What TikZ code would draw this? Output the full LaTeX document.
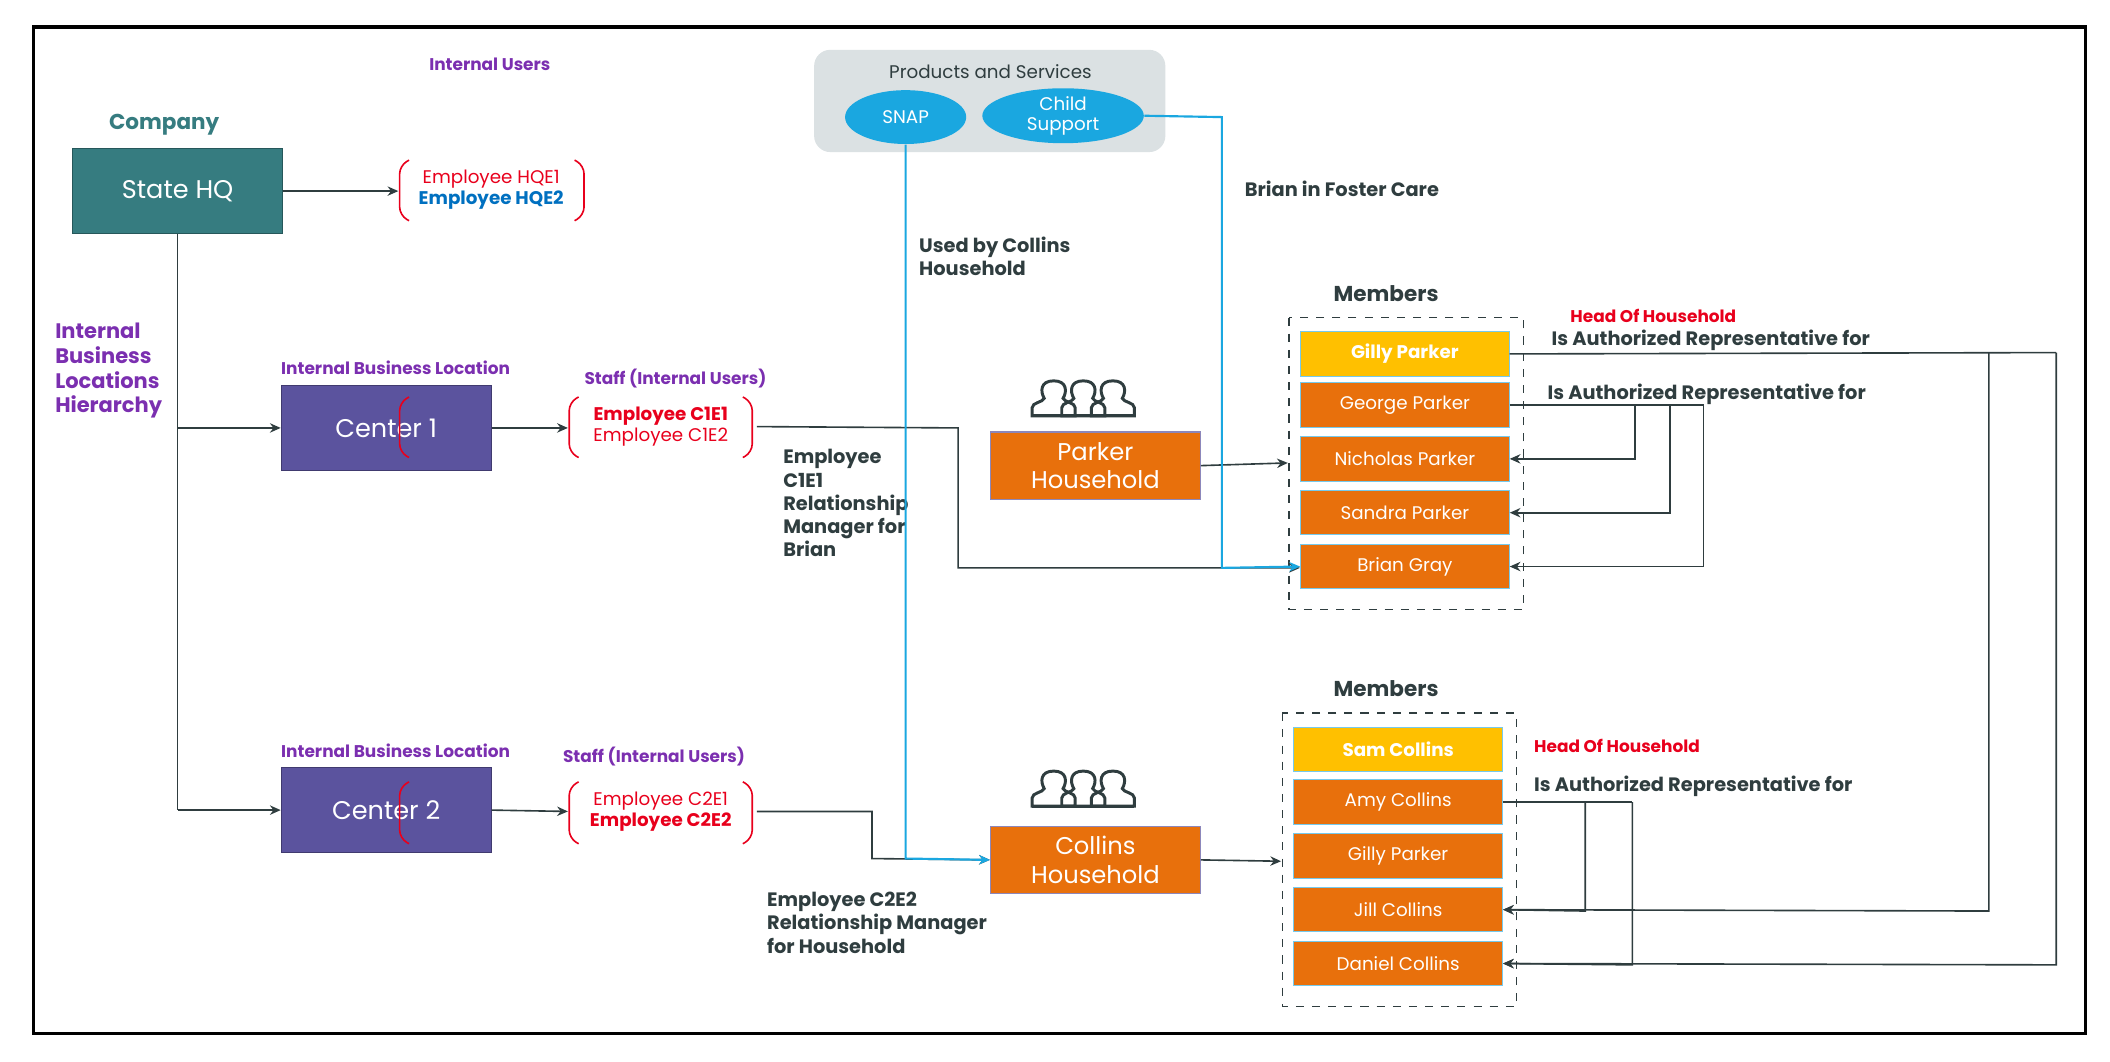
\documentclass[tikz,border=0pt]{standalone}
\usepackage{fontspec}
\setmainfont{Poppins}
\usetikzlibrary{arrows.meta,shapes.geometric}
\definecolor{dk}{HTML}{2F3D3F}
\definecolor{teal}{HTML}{367C80}
\definecolor{pur}{HTML}{5B539E}
\definecolor{org}{HTML}{E8700C}
\definecolor{yel}{HTML}{FFC000}
\definecolor{cy}{HTML}{1AA7E0}
\definecolor{lbl}{HTML}{7B2FB0}
\definecolor{rd}{HTML}{E8001C}
\definecolor{bl}{HTML}{0070C0}
\begin{document}
\begin{tikzpicture}[x=0.5pt,y=-0.5pt,
 box/.style={draw=#1!70!black,fill=#1,text=white,minimum width=78pt,minimum height=31.5pt,inner sep=0pt,font=\fontsize{9.5}{10}\selectfont},
 hh/.style={draw=pur!70,fill=org,text=white,minimum width=78pt,minimum height=25pt,align=center,inner sep=0pt,font=\fontsize{9}{10.5}\selectfont},
 mem/.style={draw=cy!60,fill=org,text=white,minimum width=77.5pt,minimum height=16.5pt,inner sep=0pt,font=\fontsize{6.8}{8}\selectfont},
 hd/.style={mem,fill=yel,font=\fontsize{6.8}{8}\selectfont\bfseries},
 lab/.style={font=\fontsize{6.3}{7.5}\selectfont\bfseries,text=lbl},
 dl/.style={font=\fontsize{7.2}{8.6}\selectfont\bfseries,text=dk,align=left},
 ar/.style={-{Stealth[length=4pt,width=3.5pt]},draw=dk,line width=0.6pt},
 ln/.style={draw=dk,line width=0.6pt},
 ca/.style={-{Stealth[length=4pt,width=3.5pt]},draw=cy,line width=0.8pt},
 emp/.style={font=\fontsize{6.8}{8}\selectfont,align=center,inner sep=1pt,minimum width=64pt}
]
\useasboundingbox (0,0) rectangle (1568,789);
\draw[line width=1.2pt] (25,20) rectangle (1550,768);
% left
\node[box=teal] (hq) at (132,142) {State HQ};
\node[box=pur] (c1) at (287,318) {Center 1};
\node[box=pur] (c2) at (287,602) {Center 2};
\node[font=\fontsize{8}{9}\selectfont\bfseries,text=teal] (co) at (122,93) {Company};
\node[lab] (iu) at (364,48) {Internal Users};
\node[lab,font=\fontsize{7.8}{9.2}\selectfont\bfseries,align=left,anchor=north west] (ibl) at (34,233) {Internal\\Business\\Locations\\Hierarchy};
\node[lab] at (294,273) {Internal Business Location};
\node[lab] at (294,558) {Internal Business Location};
\node[lab] at (502,281) {Staff (Internal Users)};
\node[lab] at (486,562) {Staff (Internal Users)};
% employee groups
\node[emp] (e0) at (365,141) {\textcolor{rd}{Employee HQE1}\\\textcolor{bl}{\bfseries Employee HQE2}};
\node[emp] (e1) at (491,317) {\textcolor{rd}{\bfseries Employee C1E1}\\\textcolor{rd}{Employee C1E2}};
\node[emp] (e2) at (491,603) {\textcolor{rd}{Employee C2E1}\\\textcolor{rd}{\bfseries Employee C2E2}};
\foreach \n/\t/\b in {e0/119/164,e1/295/340,e2/581/627}{
 \draw[rd,line width=0.6pt,rounded corners=3pt] (304,\t) -- (297,\t+4) -- (297,\b-4) -- (304,\b);
}
\foreach \t/\b in {119/164}{\draw[rd,line width=0.6pt,rounded corners=3pt] (427,\t) -- (434,\t+4) -- (434,\b-4) -- (427,\b);}
\foreach \t/\b in {295/340,581/627}{
 \draw[rd,line width=0.6pt,rounded corners=3pt] (430,\t) -- (423,\t+4) -- (423,\b-4) -- (430,\b);
 \draw[rd,line width=0.6pt,rounded corners=3pt] (552,\t) -- (559,\t+4) -- (559,\b-4) -- (552,\b);}
\draw[ar] (hq.east) -- (296,142);
\draw[ln] (hq.south) -- (132,602);
\draw[ar] (132,318) -- (c1.west);
\draw[ar] (132,602) -- (c2.west);
\draw[ar] (c1.east) -- (422,318);
\draw[ar] (c2.east) -- (422,603);
% products
\node[draw=none,fill=cy!18!gray!25,rounded corners=6pt,minimum width=130.5pt,minimum height=38pt] (ps) at (735.5,75) {};
\node[font=\fontsize{6.8}{8}\selectfont,text=dk] at (736,53) {Products and Services};
\node[ellipse,fill=cy,text=white,minimum width=45pt,minimum height=20pt,inner sep=0pt,font=\fontsize{6.8}{8}\selectfont] (snap) at (673,87) {SNAP};
\node[ellipse,fill=cy,text=white,minimum width=60pt,minimum height=20pt,inner sep=0pt,align=center,font=\fontsize{6.8}{7.5}\selectfont] (cs) at (790,86) {Child\\Support};
% households
\node[hh] (ph) at (814,346) {Parker\\Household};
\node[hh] (ch) at (814,639) {Collins\\Household};
\foreach \y in {297,587}{
 \begin{scope}[shift={(805,\y)},line width=1.1pt,draw=dk]
  \foreach \dx in {-22,0,22}{
   \draw[dk] (\dx-16,12) -- (\dx-16,6) .. controls (\dx-16,2) and (\dx-8,2) .. (\dx-7,-1)
     .. controls (\dx-10,-6) and (\dx-10,-14) .. (\dx,-14) .. controls (\dx+10,-14) and (\dx+10,-6) .. (\dx+7,-1)
     .. controls (\dx+8,2) and (\dx+16,2) .. (\dx+16,6) -- (\dx+16,12) -- cycle;}
  \draw[dk] (-38,12) -- (38,12);
 \end{scope}}
% members
\draw[dk,dashed,line width=0.6pt] (958,236) rectangle (1132,453);
\draw[dk,dashed,line width=0.6pt] (953,530) rectangle (1127,748);
\node[font=\fontsize{8}{9}\selectfont\bfseries,text=dk] at (1030,218) {Members};
\node[font=\fontsize{8}{9}\selectfont\bfseries,text=dk] at (1030,512) {Members};
\node[hd] (m1) at (1044,263) {Gilly Parker};
\node[mem] (m2) at (1044,301) {George Parker};
\node[mem] (m3) at (1044,341) {Nicholas Parker};
\node[mem] (m4) at (1044,381) {Sandra Parker};
\node[mem] (m5) at (1044,421) {Brian Gray};
\node[hd] (n1) at (1039,557) {Sam Collins};
\node[mem] (n2) at (1039,596) {Amy Collins};
\node[mem] (n3) at (1039,636) {Gilly Parker};
\node[mem] (n4) at (1039,676) {Jill Collins};
\node[mem] (n5) at (1039,716) {Daniel Collins};
\draw[ar] (ph.east) -- (957,344);
\draw[ar] (ch.east) -- (952,640);
% labels
\node[dl,anchor=west] at (918,140) {Brian in Foster Care};
\node[dl,anchor=north west] at (676,169) {Used by Collins\\Household};
\node[dl,anchor=north west] at (575,327) {Employee\\C1E1\\Relationship\\Manager for\\Brian};
\node[dl,anchor=north west] at (563,656) {Employee C2E2\\Relationship Manager\\for Household};
\node[font=\fontsize{6.3}{7.5}\selectfont\bfseries,text=rd,anchor=west] at (1160,235) {Head Of Household};
\node[font=\fontsize{6.3}{7.5}\selectfont\bfseries,text=rd,anchor=west] at (1133,554) {Head Of Household};
\node[dl,anchor=west] at (1146,253) {Is Authorized Representative for};
\node[dl,anchor=west] at (1143,293) {Is Authorized Representative for};
\node[dl,anchor=west] at (1133,584) {Is Authorized Representative for};
% connectors C1/C2
\draw[ar] (e1.east) ++(7,0) -- (712,318) -- (712,422) -- (966,422);
\draw[ar] (e2.east) ++(7,0) -- (648,603) -- (648,638) -- (ch.west);
\draw[ca] (snap.south) -- (673,638) -- (ch.west);
\draw[ca] (cs.east) -- (908,87) -- (908,422) -- (m5.west);
% right connectors
\draw[ln] (m1.east) -- (1528,262);
\draw[ar] (1478,262) -- (1478,677) -- (n4.east);
\draw[ar] (1528,262) -- (1528,717) -- (n5.east);
\draw[ln] (m2.east) -- (1266,301);
\draw[ar] (1215,301) -- (1215,341) -- (m3.east);
\draw[ar] (1241,301) -- (1241,381) -- (m4.east);
\draw[ar] (1266,301) -- (1266,421) -- (m5.east);
\draw[ln] (n2.east) -- (1213,596);
\draw[ar] (1178,596) -- (1178,677) -- (n4.east);
\draw[ar] (1213,596) -- (1213,717) -- (n5.east);
\end{tikzpicture}
\end{document}
